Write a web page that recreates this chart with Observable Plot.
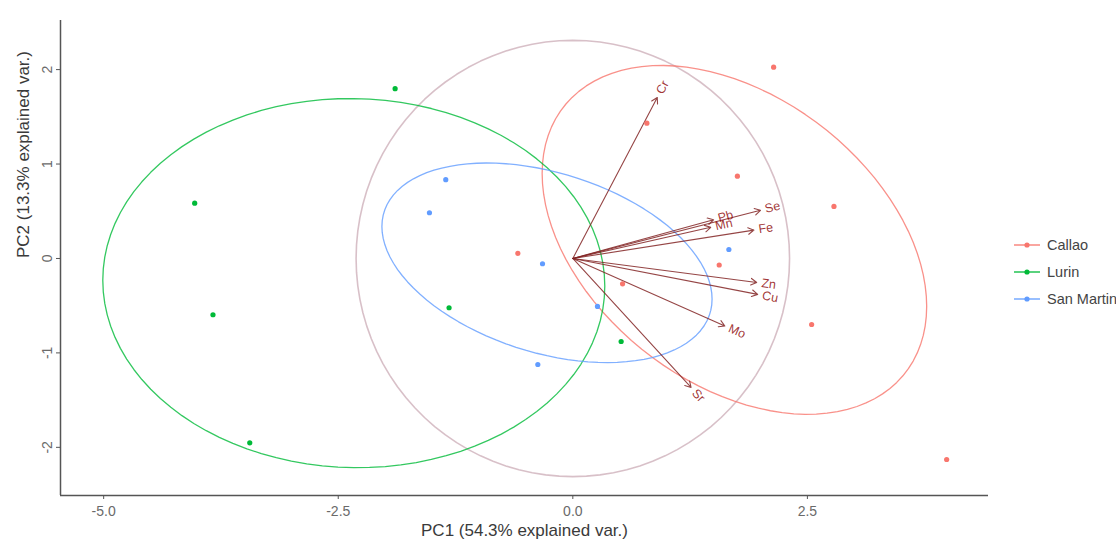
<!DOCTYPE html>
<html>
<head>
<meta charset="utf-8">
<script src="https://cdn.jsdelivr.net/npm/d3@7"></script>
<script src="https://cdn.jsdelivr.net/npm/@observablehq/plot@0.6"></script>
<style>
  html, body { margin: 0; padding: 0; background: #fff; }
  body { font-family: "Liberation Sans", Arial, sans-serif; }
  #wrap { position: relative; width: 1116px; height: 545px; overflow: hidden; }
  #legend { position: absolute; left: 1013px; top: 231px; font-size: 14.5px; color: #444; }
  .item { display: flex; align-items: center; height: 27px; white-space: nowrap; }
  .item svg { margin-right: 6px; }
</style>
</head>
<body>
<div id="wrap"><div id="chart"></div><div id="legend"></div></div>
<script>
// ---- data ----
const groups = ["Callao", "Lurin", "San Martin"];
const groupColors = ["#F8766D", "#00BA38", "#619CFF"];

const callaoX = [2.14, 0.789, 1.754, 2.783, -0.586, 1.56, 0.53, 2.545, 3.984];
const callaoY = [2.026, 1.433, 0.872, 0.551, 0.053, -0.069, -0.268, -0.699, -2.129];
const lurinX = [-1.894, -4.03, -3.835, -3.443, -1.319, 0.515];
const lurinY = [1.798, 0.586, -0.596, -1.952, -0.522, -0.879];
const sanMartinX = [-1.354, -1.528, -0.323, 1.663, 0.263, -0.373];
const sanMartinY = [0.834, 0.484, -0.056, 0.095, -0.508, -1.123];

const varNames = ["Cr", "Se", "Pb", "Mn", "Fe", "Zn", "Cu", "Mo", "Sr"];
const varX = [0.90, 2.00, 1.50, 1.47, 1.93, 1.96, 1.97, 1.62, 1.26];
const varY = [1.705, 0.51, 0.41, 0.33, 0.30, -0.254, -0.38, -0.715, -1.366];

const xTicks = [-5, -2.5, 0, 2.5];
const yTicks = [-2, -1, 0, 1, 2];
const xDomain = [-5.46, 4.43];
const yDomain = [-2.51, 2.52];
const xTitle = "PC1 (54.3% explained var.)";
const yTitle = "PC2 (13.3% explained var.)";
const ellipseProb = 0.68;
const circleProb = 0.69;

// ---- derived tables ----
const groupX = [callaoX, lurinX, sanMartinX];
const groupY = [callaoY, lurinY, sanMartinY];
const points = groups.flatMap((g, gi) => groupX[gi].map((x, i) => ({group: g, x, y: groupY[gi][i]})));

function ellipse(xs, ys, prob, n = 100) {
  const mx = d3.mean(xs), my = d3.mean(ys);
  const sxx = d3.variance(xs), syy = d3.variance(ys);
  const sxy = d3.sum(xs, (x, i) => (x - mx) * (ys[i] - my)) / (xs.length - 1);
  const r11 = Math.sqrt(sxx), r12 = sxy / r11, r22 = Math.sqrt(syy - r12 * r12);
  const ed = Math.sqrt(-2 * Math.log(1 - prob));
  return d3.range(n + 1).map(k => {
    const t = -Math.PI + 2 * Math.PI * k / n;
    const c = Math.cos(t), s = Math.sin(t);
    return {x: mx + ed * c * r11, y: my + ed * (c * r12 + s * r22)};
  });
}
const ellipses = groups.flatMap((g, gi) => ellipse(groupX[gi], groupY[gi], ellipseProb).map(p => ({...p, group: g})));

const allX = points.map(d => d.x), allY = points.map(d => d.y);
const circleR = Math.sqrt(-2 * Math.log(1 - circleProb)) *
  Math.pow(d3.mean(allX, v => v * v) * d3.mean(allY, v => v * v), 0.25);
const circle = d3.range(101).map(k => {
  const t = 2 * Math.PI * k / 100;
  return {x: circleR * Math.cos(t), y: circleR * Math.sin(t)};
});

const W = 1116, H = 545, mL = 60, mR = 128, mT = 20, mB = 50;
const pxPerUnit = (W - mL - mR) / (xDomain[1] - xDomain[0]);
const labelSize = 12.5;
const vars = varNames.map((name, i) => {
  const x = varX[i], y = varY[i];
  const len = Math.hypot(x, y);
  const off = (0.25 * name.length * 0.6 * labelSize + 1) / pxPerUnit;
  return {name, x, y, lx: x + off * x / len, ly: y + off * y / len,
          rot: -Math.atan(y / x) * 180 / Math.PI};
});

const chart = Plot.plot({
  width: W, height: H, marginLeft: mL, marginRight: mR, marginTop: mT, marginBottom: mB,
  style: {fontFamily: "'Liberation Sans', Arial, sans-serif", background: "#fff", overflow: "visible"},
  x: {domain: xDomain},
  y: {domain: yDomain},
  color: {domain: groups, range: groupColors},
  marks: [
    Plot.line(circle, {x: "x", y: "y", stroke: "#7E2D4A", strokeOpacity: 0.3, strokeWidth: 1.6}),
    Plot.line(ellipses, {x: "x", y: "y", z: "group", stroke: "group", strokeWidth: 1.3, strokeOpacity: 0.8}),
    Plot.arrow(vars, {x1: () => 0, y1: () => 0, x2: "x", y2: "y", stroke: "#832424",
      strokeWidth: 1.1, headLength: 9, headAngle: 60, strokeOpacity: 0.85}),
    Plot.dot(points, {x: "x", y: "y", fill: "group", r: 2.6}),
    Plot.text(vars, {x: "lx", y: "ly", text: "name", rotate: "rot", textAnchor: "start",
      fill: "#8B0000", fillOpacity: 0.8, fontSize: labelSize}),
    Plot.ruleY([yDomain[0]], {stroke: "#555", strokeWidth: 1.5}),
    Plot.ruleX([xDomain[0]], {stroke: "#555", strokeWidth: 1.5}),
    Plot.axisX({ticks: xTicks, tickFormat: d => d.toFixed(1), tickSize: 4, tickPadding: 7,
      fontSize: 14, color: "#6a6a6a", stroke: "#555", label: null}),
    Plot.axisY({ticks: yTicks, tickFormat: d => String(d), tickSize: 4, tickPadding: 5,
      fontSize: 14, color: "#6a6a6a", stroke: "#555", tickRotate: -90, label: null}),
    Plot.text([xTitle], {text: d => d, frameAnchor: "bottom", dy: 40, fontSize: 17, fill: "#3a3a3a"}),
    Plot.text([yTitle], {text: d => d, frameAnchor: "left", dx: -37, rotate: -90, fontSize: 17, fill: "#3a3a3a"})
  ]
});
document.getElementById("chart").appendChild(chart);

const legend = document.getElementById("legend");
groups.forEach((g, i) => {
  const item = document.createElement("div");
  item.className = "item";
  item.innerHTML = `<svg width="28" height="14"><line x1="1" x2="27" y1="7" y2="7" stroke="${groupColors[i]}" stroke-width="1.3"/><circle cx="14" cy="7" r="2.6" fill="${groupColors[i]}"/></svg><span>${g}</span>`;
  legend.appendChild(item);
});
</script>
</body>
</html>
